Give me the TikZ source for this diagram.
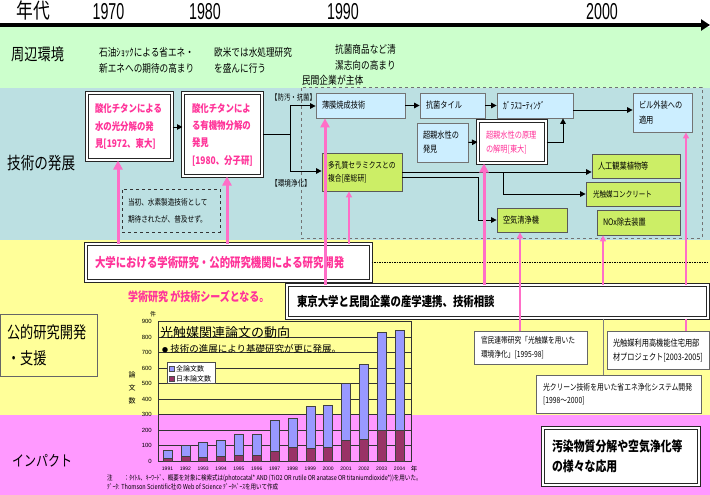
\documentclass[tikz,border=0pt]{standalone}
\usepackage{fontspec}
\setmainfont{Liberation Sans}
\newfontfamily\jp[FakeStretch=0.8]{Noto Sans CJK JP}
\newfontfamily\jpw{Noto Sans CJK JP}
\newfontfamily\numf[FakeStretch=0.62]{Liberation Sans}
\usetikzlibrary{arrows.meta}
\definecolor{bgGreen}{HTML}{CCFFCC}
\definecolor{bgBlue}{HTML}{BCE0E2}
\definecolor{bgYellow}{HTML}{FFFF99}
\definecolor{bgPink}{HTML}{FF99FF}
\definecolor{pinkTxt}{HTML}{FF3399}
\definecolor{pinkLn}{HTML}{FF6EC7}
\definecolor{lbFill}{HTML}{CCEEFF}
\definecolor{ygFill}{HTML}{CCEE66}
\definecolor{barBlue}{HTML}{9999FF}
\definecolor{barRed}{HTML}{993366}
\newcommand{\fsz}[2]{\fontsize{#1}{#2}\selectfont}
\begin{document}
\begin{tikzpicture}[x=1pt,y=-1pt,
  lbbox/.style={draw=black!55, fill=lbFill, line width=0.8pt, inner sep=2pt, align=left, font=\jp\fsz{9}{14}},
  ygbox/.style={draw=black!65, fill=ygFill, line width=0.8pt, inner sep=2pt, align=left, font=\jp\fsz{9}{13}},
  dblbox/.style={draw=black!85, double=white, double distance=1.3pt, line width=1pt, fill=white, inner sep=2pt, align=left},
  wbox/.style={draw=black!60, fill=white, line width=0.8pt, inner sep=2pt, align=left},
  lbl/.style={inner sep=0pt, anchor=west, align=left},
  conn/.style={line width=1pt, -{Triangle[length=5.5pt,width=5.5pt]}},
  plain/.style={line width=1pt},
  pthick/.style={draw=pinkLn, line width=3pt, -{Triangle[length=9pt,width=9pt]}},
  pthin/.style={draw=pinkLn, line width=1.3pt, -{Triangle[length=6pt,width=6pt]}},
  grid/.style={draw=black!80, line width=0.8pt},
]
\useasboundingbox (0,0) rectangle (710,495);
% bands
\fill[white] (0,0) rectangle (710,27);
\fill[bgGreen] (0,27) rectangle (710,88);
\fill[bgBlue] (0,88) rectangle (710,240);
\fill[bgYellow] (0,240) rectangle (710,415);
\fill[bgPink] (0,415) rectangle (710,495);

% time axis
\coordinate (axL) at (0,25);
\coordinate (axR) at (710,25);
\draw[line width=3.5pt, -{Triangle[length=9pt,width=11pt]}] (axL) -- (axR);
\node[font=\jp\fsz{21}{21}, inner sep=0] (hNen) at (33,11) {年代};
\node[font=\numf\fsz{23}{23}, inner sep=0] (h1970) at (108.5,12) {1970};
\node[font=\numf\fsz{23}{23}, inner sep=0] (h1980) at (205,12) {1980};
\node[font=\numf\fsz{23}{23}, inner sep=0] (h1990) at (343,12) {1990};
\node[font=\numf\fsz{23}{23}, inner sep=0] (h2000) at (602,12) {2000};

% left labels
\node[lbl, font=\jp\fsz{16.5}{16.5}] (lShuhen) at (11,54) {周辺環境};
\node[lbl, font=\jp\fsz{17}{17}] (lGijutsu) at (7,163) {技術の発展};
\node[draw=black!60, fill=bgYellow, line width=0.8pt, minimum width=97pt, minimum height=62pt, text width=83pt, inner sep=2pt, align=left, font=\jp\fsz{16.5}{26}] (lKouteki) at (48.5,345) {公的研究開発\\・支援};
\node[lbl, font=\jp\fsz{15}{15}] (lImpact) at (12,461) {インパクト};

% environment texts
\node[lbl, font=\jp\fsz{10.8}{16}] (g1) at (99,60) {石油ｼｮｯｸによる省エネ・\\新エネへの期待の高まり};
\node[lbl, font=\jp\fsz{10.8}{16}] (g2) at (214,60) {欧米では水処理研究\\を盛んに行う};
\node[lbl, font=\jp\fsz{10.8}{16}] (g3) at (335,57) {抗菌商品など清\\潔志向の高まり};

% private-sector dashed frame
\node[draw=black!55, dashed, line width=0.8pt, minimum width=401pt, minimum height=151pt, inner sep=0pt] (priv) at (501.5,162.5) {};
\node[anchor=south west, inner sep=1pt, font=\jp\fsz{11}{11}] (privlbl) at (priv.north west) {民間企業が主体};

% technology boxes
\node[dblbox, minimum width=85pt, minimum height=67pt, text width=69pt, text=pinkTxt, font=\jp\bfseries\fsz{10.5}{17.5}] (A) at (129.5,126.5) {酸化チタンによる\\水の光分解の発\\見[1972、東大]};
\node[dblbox, minimum width=79pt, minimum height=83pt, text width=61pt, text=pinkTxt, font=\jp\bfseries\fsz{10.5}{17.3}] (B) at (222.5,134.5) {酸化チタンによ\\る有機物分解の\\発見\\{}[1980、分子研]};
\node[draw=black!80, dashed, line width=1pt, fill=bgBlue, minimum width=98pt, minimum height=43pt, text width=86pt, inner sep=2pt, align=left, font=\jp\fsz{8.3}{17}] (note) at (171,210.5) {当初、水素製造技術として\\期待されたが、普及せず。};

\node[lbl, font=\jp\fsz{8}{8}] (tagA) at (271,97) {【防汚・抗菌】};
\node[lbl, font=\jp\fsz{8.3}{8.3}] (tagB) at (271,183) {【環境浄化】};

\node[lbbox, minimum width=89pt, minimum height=25pt, text width=77pt] (T1) at (360.5,105.5) {薄膜焼成技術};
\node[lbbox, minimum width=65pt, minimum height=25pt, text width=53pt] (T2) at (452.5,105.5) {抗菌タイル};
\node[lbbox, minimum width=76pt, minimum height=25pt, text width=64pt, font=\jp\fsz{9.5}{14}] (T3) at (535,105.5) {ｶﾞﾗｽｺｰﾃｨﾝｸﾞ};
\node[lbbox, minimum width=59pt, minimum height=39pt, text width=47pt, font=\jp\fsz{9}{15}] (T4) at (662.5,112.5) {ビル外装への\\適用};
\node[lbbox, minimum width=51pt, minimum height=39pt, text width=39pt] (S1) at (442.5,142.5) {超親水性の\\発見};
\node[dblbox, minimum width=68pt, minimum height=42pt, text width=52pt, text=pinkTxt, font=\jp\fsz{9}{14}] (S2) at (512,142) {超親水性の原理\\の解明[東大]};
\node[ygbox, minimum width=80pt, minimum height=38pt, text width=68pt, font=\jp\fsz{8.5}{13}] (P) at (362,172) {多孔質セラミクスとの\\複合[産総研]};
\node[ygbox, minimum width=88pt, minimum height=24pt, text width=76pt] (J1) at (636,166) {人工観葉植物等};
\node[ygbox, minimum width=94pt, minimum height=24pt, text width=80pt, font=\jp\fsz{8.2}{13}] (J2) at (633,194) {光触媒コンクリート};
\node[ygbox, minimum width=70pt, minimum height=24pt, text width=58pt] (K) at (532,220) {空気清浄機};
\node[ygbox, minimum width=83pt, minimum height=25pt, text width=71pt] (N) at (638.5,222.5) {NOx除去装置};

% connectors in technology area
\coordinate (brT) at (290,106);
\coordinate (brB) at (290,171);
\coordinate (cg) at (563,0);
\coordinate (cb) at (503,0);
\coordinate (ck) at (478,0);
\coordinate (ya) at (0,127);
\draw[conn] (A.east |- ya) -- (B.west |- ya);
\draw[plain] (B.east) -- (B.east -| brT);
\draw[plain] (brT) -- (brB);
\draw[conn] (brT) -- (brT -| T1.west);
\draw[conn] (brB) -- (brB -| P.west);
\draw[conn] (T1.east) -- (T2.west);
\draw[conn] (T2.east) -- (T3.west);
\draw[conn] ([yshift=-4.5pt]T3.east) -- ([yshift=-4.5pt]T3.east -| T4.west);
\draw[conn] (S1.east) -- (S2.west);
\draw[conn] (S2.east) -| (T3.south -| cg);
\draw[conn] (P.east) -- (P.east -| J1.west);
\draw[conn] (P.east -| cb) |- (J2.west);
\draw[conn] ([yshift=-5pt]P.east) -| (K.west -| ck) -- (K.west);

% research boxes
\node[dblbox, minimum width=285pt, minimum height=37pt, text width=267pt, text=pinkTxt, font=\jp\bfseries\fsz{13}{13}] (U) at (228.5,262.5) {大学における学術研究・公的研究機関による研究開発};
\coordinate (re) at (709,0);
\draw[densely dotted, line width=1.5pt] (U.east) -- (U.east -| re);
\node[lbl, text=pinkTxt, font=\jp\bfseries\fsz{12.5}{12.5}] (seeds) at (128,297) {学術研究\,が技術シーズとなる。};
\node[dblbox, minimum width=421pt, minimum height=33pt, text width=401pt, font=\jp\bfseries\fsz{13}{13}] (TK) at (497.5,301.5) {東京大学と民間企業の産学連携、技術相談};

\node[wbox, minimum width=113pt, minimum height=33pt, text width=99pt, font=\jp\fsz{8.4}{14}] (G1) at (530.5,347.5) {官民連帯研究「光触媒を用いた\\環境浄化」[1995-98]};
\node[wbox, minimum width=102pt, minimum height=38pt, text width=90pt, font=\jp\fsz{9}{14}] (G2) at (658,350) {光触媒利用高機能住宅用部\\材プロジェクト[2003-2005]};
\node[wbox, minimum width=165pt, minimum height=38pt, text width=151pt, font=\jp\fsz{8.5}{13}] (G3) at (618.5,394) {光クリーン技術を用いた省エネ浄化システム開発\\{}[1998～2000]};

\node[dblbox, minimum width=156pt, minimum height=57pt, text width=138pt, font=\jp\bfseries\fsz{13.6}{20}] (Imp) at (621,456.5) {汚染物質分解や空気浄化等\\の様々な応用};

% pink links
\coordinate (p1) at (118,0);
\coordinate (p2) at (227,0);
\coordinate (p3) at (325,0);
\coordinate (p4) at (484,0);
\coordinate (p5) at (349,0);
\coordinate (p6) at (520,0);
\coordinate (p7) at (686,0);
\coordinate (p8) at (603,0);
\draw[pthick] (U.north -| p1) -- (A.south -| p1);
\draw[pthick] (U.north -| p2) -- (B.south -| p2);
\draw[pthick] (TK.north -| p3) -- (T1.south -| p3);
\draw[pthick] (TK.north -| p4) -- (S2.south -| p4);
\draw[pthin] (U.north -| p5) -- (P.south -| p5);
\draw[pthin] (G1.north -| p6) -- (K.south -| p6);
\draw[pthin] (TK.north -| p7) -- (T4.south -| p7);
\draw[draw=pinkLn, line width=1.3pt] (TK.south -| p7) -- (G2.north -| p7);
\draw[pthin] (TK.north -| p8) -- (N.south -| p8);
\draw[draw=black!50, line width=1pt] (TK.south -| p8) -- (G3.north -| p8);

% chart
\foreach \v in {100,200,...,900} {
  \draw[grid] (158,{461-\v*0.155}) -- (411,{461-\v*0.155});
  \node[anchor=east, inner sep=0pt, font=\fsz{6}{6}] at (152,{461-\v*0.155}) {\v};
}
\node[anchor=east, inner sep=0pt, font=\fsz{6}{6}] (y0) at (152,461) {0};
\node[inner sep=0pt, font=\jpw\fsz{6}{6}] (ken) at (153,314) {件};
\draw[grid] (158,{461-900*0.155}) rectangle (411,461);
\foreach \t/\j [count=\i from 0] in {67/15,100/32,121/24,134/32,173/37,175/37,263/65,276/91,354/82,360/88,503/134,627/140,830/199,843/199} {
  \pgfmathsetmacro{\xc}{167.5+\i*17.85}
  \pgfmathtruncatemacro{\yr}{1991+\i}
  \filldraw[fill=barBlue, draw=black!75, line width=0.5pt] ({\xc-4.5},461) rectangle ({\xc+4.5},{461-\t*0.155});
  \filldraw[fill=barRed, draw=black!75, line width=0.5pt] ({\xc-4.5},461) rectangle ({\xc+4.5},{461-\j*0.155});
  \node[inner sep=0pt, font=\fsz{5}{5}] at (\xc,469) {\yr};
}
\node[inner sep=0pt, font=\jpw\fsz{6.5}{6.5}] (nen) at (414,469) {年};
\node[inner sep=0pt, align=center, font=\jpw\fsz{7}{13}] (ronbun) at (132,388) {論\\文\\数};
\node[lbl, font=\jpw\fsz{13}{13}] (ctitle) at (160,333) {光触媒関連論文の動向};
\node[lbl, font=\jpw\fsz{9.5}{9.5}] (csub) at (162,349) {{\fsz{6}{6}●}\ 技術の進展により基礎研究が更に発展。};
\node[draw=black!70, fill=white, line width=0.6pt, minimum width=48pt, minimum height=21pt, inner sep=0pt] (leg) at (191,373) {};
\fill[barBlue, draw=black!70, line width=0.4pt] (169,366) rectangle (174,371);
\fill[barRed, draw=black!70, line width=0.4pt] (169,376) rectangle (174,381);
\node[lbl, font=\jpw\fsz{7}{7}] (leg1) at (176,368.5) {全論文数};
\node[lbl, font=\jpw\fsz{7}{7}] (leg2) at (176,378.5) {日本論文数};

% footnotes
\node[lbl, font=\jp\fsz{6.9}{6.9}] (fn1) at (107,478) {注　　：ﾀｲﾄﾙ、ｷｰﾜｰﾄﾞ、概要を対象に検索式は(photocatal* AND (TiO2 OR rutile OR anatase OR titaniumdioxide*))を用いた。};
\node[lbl, font=\jp\fsz{6.9}{6.9}] (fn2) at (107,486.5) {ﾃﾞｰﾀ: Thomson Scientific社の Web of Science ﾃﾞｰﾀﾍﾞｰｽを用いて作成};
\end{tikzpicture}
\end{document}
